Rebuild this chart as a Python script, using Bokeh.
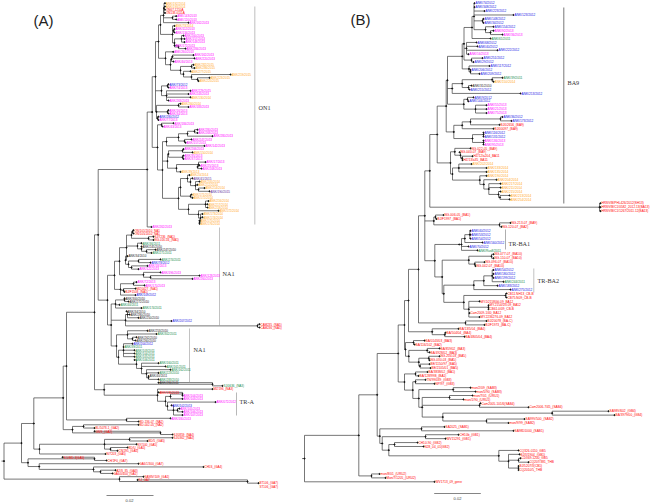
from bokeh.core.properties import value
from bokeh.embed import file_html
from bokeh.layouts import row
from bokeh.models import Range1d
from bokeh.plotting import figure
from bokeh.resources import INLINE

# ---------------- data: group colours ----------------
GROUP_COLORS = {"m": "#ff00ff", "o": "#ffa726", "r": "#ff0000", "b": "#1414e6",
                "g": "#128a4a", "p": "#5a2a9a", "k": "#222222"}

# ---------------- panel A ----------------
A_LABELS = [
 "ANK/192/2014","ANK/193/2014","ON67-1210A","ON138-0111A","ANK/143/2013","ANK/120/2013","ANK/162/2013","ANK/73/2014",
 "ANK/112/2013","ANK/134/2013","ANK/200/2013","ANK/157/2013","ANK/148/2013","ANK/172/2013","ANK/284/2013","ANK/260/2013",
 "ANK/162/2013","ANK/220/2013","ANK/40/2013","ANK/282/2015","ANK/286/2015","ANK/277/2015","ANK/219/2015","ANK/223/2015",
 "ANK/225/2015","ANK/73/2012","ANK/74/2013","ANK/229/2015","ANK/243/2013","ANK/130/2014","ANK/263/2013","ANK/260/2014",
 "ANK/183/2013","ANK/16/2013","ANK/34/2013","ANK/280/2012","ANK/77/2013","ANK/184/2013","ANK/43/2013","ANK/280/2013",
 "ANK/268/2013","ANK/280/2013","ANK/247/2013","ANK/157/2013","ANK/142/2013","ANK/206/2013","ANK/150/2014","ANK/35/2013",
 "ANK/37/2013","ANK/17/2013","ANK/25/2013","ANK/208/2013","ANK/39/2013","ANK/20/2014","ANK/41/2015","ANK/205/2014",
 "ANK/212/2014","ANK/214/2014","ANK/190/2015","ANK/171/2014","ANK/172/2014","ANK/216/2014","ANK/217/2014","ANK/218/2014",
 "ANK/172/2014","ANK/173/2014","ANK/174/2014","ANK/175/2014","ANK/176/2014","ANK/262/2013","ON/101/2010_NA1","ON/105/2010_NA1",
 "SJ/7236_(NA1)","NG-016-04_(NA1)","ANK/36/2011","ANK/245/2010","ANK/247/2010","ANK/271/2011","ANK/34/2010","ANK/274/2011",
 "ANK/78/2012","ANK/18/2013","ANK/122/2013","ANK/196/2013","ANK/128/2013","ANK/260/2013","ANK/72/2013","ANK/170/2013",
 "MZ/0427_(NA1)","BJ/F1508_(NA1)","ANK/109/2012","ANK/300/2010","ANK/272/2010","ANK/40/2011","ANK/174/2011","ANK/34/2010",
 "ANK/280/2010","ANK/250/2010","ANK/207/2012","CAM235_(NA5)","CAM236_(NA5)","ANK/253/2010","ANK/302/2011","ANK/262/2010",
 "ANK/260/2010","ANK/204/2012","ANK/39/2011","ANK/103/2011","ANK/104/2011","ANK/105/2011","ANK/106/2011","ANK/160/2011",
 "ANK/161/2011","ANK/162/2011","ANK/223/2010","ANK/40/2011","ANK/283/2010","ANK/284/2011","SJ/0636_(NA3)","MZ/196_(NA3)",
 "ANK/136/2013","ANK/104/2013","ANK/103/2013","ANK/072/2012","ANK/102/2013","ANK/105/2013","ANK/106/2013","ANK/107/2013",
 "ANK/180/2013","BD-136-07_(NA2)","BD-002-05_(NA2)","BL/5078-1_(GA2)","GN/9_(GA2)","SJ/0859_(NA4)","SJ/0362_(NA4)","BD/5_(GA5)",
 "NY/100_(GA5)","BD/U_(GA5)","CN/295_(GA5)","N/7203_(GA5)","N.5/MD-3(GA5)","CH/1F0_(GA7)","GA6/1/300_(GA7)","CH5S_(GA4)",
 "A2/S_85_(GA3)","GA6/0/400_(GA1)","SA98V/109_(GA1)","KJ_GA7","BT106_(GA7)","ST106_(GA7)",
]
A_GROUPS = ("oorrmmmo" "mmmmmmmm" "mmmppppp" "pbmmmomo" "mmmbmmmm" "mmmmmmom" "mmmmopopo".replace("p", "o") +
            "oooooooo" "oooomrr" "rrgkkgkg" "bmmmmmmm" "rrbkkggk" "kkbrrkgk" "kbggggg" "ggggkgkg" "rrmmmbmm" "mmrrrrrr"
            "rrrrrrrr" "rrrrrrr")
A_GROUPS = A_GROUPS[:54] + "p" + A_GROUPS[55:58] + "p" + A_GROUPS[59:]
A_TIPS = [164.5,164.5,164.5,164.5,175.7,175.7,188,174,174,174,183,184,184,174,185,172.7,193,194,173,193,194,190,230,209,198,
          168,168,190,188,190,168,180,188,168,168,158,158,173,162,197,197,212,191,185,204,183,192,183,183,205,199,201,180,
          189,192,199,197,204,209,191,192,208,207,207,218,202,202,199,199,151,133,133,153,153,141,141,155,151,127,160,150,147,138,
          160,199,192,136,144,135,124,135,124,128,119,141,126,129,138,171,259,259,147,156,136,135,132,123,134,134,134,134,
          158,165,170,158,148,158,158,222,212,158,182,182,215,171,179,182,182,170,138,138,94,94,172,172,147,136,127,117,105,62,
          106,138,203,115,112,143,137,258,258]
A_TREE = (3.5,
  (21,
    (33.3,
      (62.7,
        (66,
          (94,
            (97.7,
              (146.7,
                (151.7,
                  (155,
                    (158,
                      (160,
                        (163, (163.5,0,1,2,3), (172,4,5), 6),
                        (172, 7, (173,8,9), (174, (181,10,11,12), (178,13,14)))),
                      (165, 15, (170, (171, (172,16,17), 18),
                                 (180, (191,19,20), (183, 21, (191, 22, (197,23,24)))))) ),
                    (161, (167,25,26), (166,27,28,29,30)),
                    (156, (178,31,32), (167,33,34), (157,35,36))),
                  (157,
                    (161,37,38),
                    (162,
                      (166, (178, (187, (194,39,40), 41), (184,42,43)), 44),
                      (167, (168, (182,45,46), (182,47,48)), (176, (198,49,(197,50,51)), 52)),
                      (178,
                        (180, (187, 53, (190, 54, (195, 55, 56, (198,57,58)))), (190,59,60)),
                        (188, (205,61,62,63), (198, 64, (200, 65, 66, (199,67,68)))))))),
                69),
              (107,
                (114,
                  (119,
                    (126,
                      (131, (132,70,71), (148,72,73)),
                      (137, 74, (141, 75, (146,76,77))),
                      (125, 78, (128, (138,79,80), (131,81,82)))),
                    (143, 83, (150,84,85))),
                  (120, (133,86,87), (123,88,89), 90)),
                (110.7,
                  (115, (124,91,92), 93, 94),
                  (125, (127,95,96,97), 98, (257,99,100)),
                  (116, (127, 101, 102, (132,103,104)),
                        (118, (123,105,106,107,108,109),
                              (136, 110, (141, 111, 112, (146, 113, 114, (148,115,116))))))))),
            (103.7,
              (212,117,118),
              (157, 119, (165, (170, (182,120,121), 122),
                               (167, 123, (173, 124, (177,125,126), 127)))))),
          (126,128,129)),
        (72, (83,130,131), (160,132,133))),
      (39, (104, (129,134,135), 136, (110,137,138)), 139)),
    (27.5,
      (94,140,141),
      (38.7, 142, (93, 143, (100,144,145))))),
  (119, 146, (247,147,148)))
# clade bars: x, first y, last y, colour, width
A_BARS = [(254.3,6,224,"#c4c4c4",1.1),(219,227,325,"#999999",0.6),(189,328,382,"#999999",0.6),(236,392,415,"#888888",0.6)]
A_CLADES = [("ON1",258,107),("NA1",222,273),("NA1",193,349),("TR-A",239,401)]
A_SCALE = (106,153,495,"0.02",129,499.5)
A_TITLE = ("(A)",33,20)

# ---------------- panel B ----------------
B_LABELS = [
 "ANK/74/2012","ANK/348/2012","ANK/223/2012","ANK/123/2012","ANK/148/2012","ANK/34/2012","ANK/154/2012","ANK/92/2013",
 "ANK/36/2013","ANK/61/2011","ANK/68/2012","ANK/40/2012","ANK/222/2012","ANK/16/2013","ANK/251/2012","ANK/29/2012",
 "ANK/117/2012","ANK/206/2012","ANK/209/2012","ANK/39/2011","ANK/150/2014","ANK/31/2010","ANK/215/2012","ANK/213/2012",
 "ANK/9/2012","ANK/144/2012","ANK/55/2013","ANK/21/2013","ANK/75/2013","ANK/36/2012","ANK/173/2012","BJ/02656_(BA9)",
 "BJ/00097_(BA9)","ANK/116/2012","ANK/131/2012","ANK/136/2013","ANK/95/2013","NG-022-05_(BA9)","NG-040-07_(BA9)",
 "HZ/12/a204_BA11","HZ/13/a35_BA11","ANK/202/2014","ANK/133/2014","ANK/135/2014","ANK/190/2014","ANK/204/2014",
 "ANK/217/2014","ANK/211/2014","ANK/215/2014","ANK/213/2014","ANK/254/2014","HRSV/B/PHL426/2012(SH13)",
 "HRSV/B/C1/0582_2012.13(BA13)","HRSV/B/C1/1267/2011.12(BA13)","NG-006-05_(BA1)","BJ/F1997_(BA1)","NG-213-07_(BA9)",
 "NG-120-07_(BA2)","ANK/40/2012","ANK/53/2012","ANK/54/2012","ANK/160/2012","ANK/70/2012","ANK/Rus8/2011",
 "NG-077-07_(BA10)","NG-110-07_(BA10)","NG-096-07_(BA10)","NG-042-07_(BA10)","ANK/54/2012","ANK/180/2012","ANK/199/2012",
 "ANK/244/2011","ANK/183/2012","ANK/275/2012","CB11.NH13_CB-B","CB75.N09_CB-B","MY.D21580kl.09_BA12","MY.2154/D3.09_BA12",
 "CB61.0/09_CB-B","Cam2009-1/40_BA12","MY.2236276-09_BA12","BJ/20078_(BA-C)","BJ/F1973_(BA-C)","BA/13/5/04_(BA4)",
 "BA/504/04_(BA4)","BA/4805/04_(BA4)","BA/0143/03_(BA3)","BA/116/102_(BA2)","BA/859/02_(BA3)","BA/4928/02_(BA3)",
 "NG-204-03_(BA5)","NG-030-03_(BA5)","BE/1150/97_(BA5)","BE/2105/01_(BA5)","BA/3838/02_(BA1)","BA/128/99B_(BA1)",
 "TN/99/039_(GB3)","NP/97_(GB3)","mon/2/09_(SAB3)","mon/5/90_(SAB3)","mon/7/01_(URU1)","mon/1/90_(URU1)",
 "Cam2005-101/6(SAB4)","Cam2006-7/45_(SAB4)","SA98V/602_(GB4)","BA/3979/00_(GB4)","SA99V/500_(SAB2)","mon/9/99_(SAB2)",
 "SA2025_(SAB1)","SA98D1000_(SAB1)","CH10b_(GB1)","WV15291_(GB1)","CH10-90_(GB2)","N28_04_01(GB2)","CQ326-0110_GB5",
 "BJ/3/1904_(GB1)","CD369-1200_GB5","CQ207/381_THB","BJ/5207/3(CB1)","CQ2010/5_THB","mon/8/01_(URU2)","Mon/7/1205_(URU2)",
 "WV1713_09_gene",
]
B_GROUPS = ("bbbbbbbm" "mgbbbmbb" "bbbgokbb" "bbmmmbbr" "rbbmmrr" "rroooooo" "oooo" "rrr" "rrrr" "bbbbbg" "rrrr" "bbbgbb" +
            "r" * 49)
B_TIPS = [149,149,159,188,158,158,168,168,177,165,151,152,172,143,157,148,164,145,154,177,168,146,144,195,148,143,161,161,161,
          177,186,174,168,158,158,158,158,145,134,147,137,146,161,161,161,171,175,175,175,184,184,275,275,275,118,111,185,176,
          145,145,145,157,143,152,168,168,159,150,168,168,168,178,172,185,181,181,154,163,163,144,154,161,159,133,120,139,
          99,89,114,104,114,104,104,105,102,93,100,109,145,150,147,138,155,203,283,289,199,183,119,188,133,120,92,98,
          193,194,195,203,193,193,54,60,109]
B_TREE = (-21,
  (33.3,
    (51.7,
      (72.7,
        (79,
          (83,
            (93,
              (99.3,
                (104.3,
                  (111.7,
                    (120.7,
                      (122,
                        (136.7,
                          (138.5,
                            (146.5, (148.5, 0, 1, 2, 3, (157,4,5), (160, 6, (165,7,8))), 9),
                            (141, 10, 11, 12, 13),
                            (146, 14, 15)),
                          (143.5, 16, (145,17,18))),
                        (126.7, (136.7, (166.7,19,20), (143,21,22)), 23),
                        (138.3, (142,24,25), (150,26,27,28))),
                      (128.3,
                        (136.7, (145, (175,29,30), 31), 32),
                        (147, (158,33,34), (158,35,36)))),
                    (125,
                      (129.3, 37, (135, 38, (136.7,39,40))),
                      (127, (133.3,41,42,43),
                            (154.3, 44, (158.3, 45, (163.3, 46, 47, (173, 48, (174.5,49,50))))))) ),
                  (274,51,52,53)),
                (108.3, (110,54,55), (174,56,57)),
                (109.3,
                  (133.7, (136, (139.3, (144.3,58,59,60), 61), 62, 63)),
                  (116.7,
                    (143.3, (166,64,65), (149.3,66,67)),
                    (118.3,
                      (148.3, (158.3, (166.7,68,69,70,71), 72), 73),
                      (138.3, (180,74,75), (143.3, 76, (163,77,78), 79, 80)))))),
              (140,81,82)),
            (106.7, 83, (119.3,84,85))),
          (80, (88,86,87),
               (83.3, (101.7,88,89), (93.3, (103.3,90,91), (94.5,92,93))))),
        (79,
          (90,94,95),
          (87.3,
            (90,96,97),
            (93.3,
              (127.7,98,99),
              (96.7, (124,100,101), (154,102,103),
                     (117.3, (226.7,104,105), (161,106,107))))))),
      (54.3,
        (96,108,109),
        (56.7,
          (100,110,111),
          (63.3,
            (69,112,113),
            (173.3, 114, (183, 115, (193,116,117), (193,118,119))))))),
    (46,120,121)),
  122)
B_BARS = [(238.3,7,203,"#555555",0.8),(180,229,249,"#999999",0.8),(208.3,268,292,"#999999",0.6)]
B_CLADES = [("BA9",242,82),("TR-BA1",183,243),("TR-BA2",212,280)]
B_SCALE = (108.7,155.3,493,"0.02",132,498)
B_TITLE = ("(B)",25,19)


def layout(tree, tips, first_y, step):
    """Walk the tree: leaves take rows in order, inner nodes sit midway between their children."""
    xs0, ys0, xs1, ys1, dx, dy = [], [], [], [], [], []
    def walk(node, px):
        if isinstance(node, int):
            x, y = tips[node], first_y + node * step
            xs0.append(px); ys0.append(y); xs1.append(x); ys1.append(y); dx.append(x); dy.append(y)
            return y
        x = node[0]
        kids = [walk(c, x) for c in node[1:]]
        y = (min(kids) + max(kids)) / 2
        xs0.append(x); ys0.append(min(kids)); xs1.append(x); ys1.append(max(kids))
        if px is not None:
            xs0.append(px); ys0.append(y); xs1.append(x); ys1.append(y)
        dx.append(x); dy.append(y)
        return y
    root_y = walk(tree, None)
    xs0.append(tree[0] - 2.5); ys0.append(root_y); xs1.append(tree[0]); ys1.append(root_y)
    return xs0, ys0, xs1, ys1, dx, dy


def panel(width, xr, tree, labels, groups, tips, first_y, step, bars, clades, scale, title, font_px):
    p = figure(width=width, height=502, x_range=Range1d(*xr), y_range=Range1d(502, 0),
               output_backend="svg", toolbar_location=None, min_border=0)
    p.axis.visible = False
    p.grid.visible = False
    p.outline_line_color = None
    x0, y0, x1, y1, dx, dy = layout(tree, tips, first_y, step)
    p.segment(x0, y0, x1, y1, line_color="#3c3c3c", line_width=0.7)
    p.scatter(dx, dy, size=1.1, color="#111111")
    for x, a, b, c, w in bars:
        p.segment([x], [a], [x], [b], line_color=c, line_width=w)
    p.text([t + 1.0 for t in tips], [first_y + i * step for i in range(len(labels))], text=labels,
           text_color=[GROUP_COLORS[g] for g in groups], text_font=value("Liberation Sans"),
           text_font_size=font_px, text_baseline="middle", text_align="left")
    p.text([c[1] for c in clades], [c[2] for c in clades], text=[c[0] for c in clades],
           text_font=value("Liberation Serif"), text_font_size="6.2px", text_color="#333333",
           text_baseline="middle")
    a, b, y, lab, lx, ly = scale
    p.segment([a], [y], [b], [y], line_color="#666666", line_width=0.8)
    p.text([lx], [ly], text=[lab], text_font=value("Liberation Sans"), text_font_size="4px",
           text_color="#444444", text_align="center", text_baseline="middle")
    p.text([title[1]], [title[2]], text=[title[0]], text_font=value("Liberation Sans"),
           text_font_size="15px", text_color="#222222", text_baseline="middle")
    return p


pa = panel(295, (0, 295), A_TREE, A_LABELS, A_GROUPS, A_TIPS, 2.7, 3.243, A_BARS, A_CLADES, A_SCALE, A_TITLE, "3px")
pb = panel(355, (-30, 325), B_TREE, B_LABELS, B_GROUPS, B_TIPS, 2.7, 3.923, B_BARS, B_CLADES, B_SCALE, B_TITLE, "3.2px")
open("out.html", "w").write(file_html(row(pa, pb), INLINE))
